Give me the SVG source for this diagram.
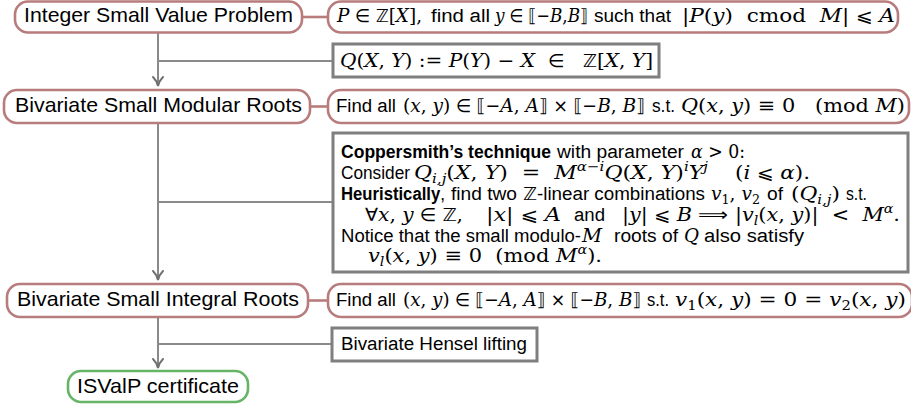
<svg xmlns="http://www.w3.org/2000/svg" width="911" height="409" viewBox="0 0 911 409">
<style>
text{font-family:"Liberation Sans",Arial,sans-serif;font-size:18px;fill:#000;white-space:pre}
text.big{font-size:21px}
.m{font-family:"DejaVu Serif","Liberation Serif",serif;font-style:italic;font-size:19px}
.r{font-family:"DejaVu Serif","Liberation Serif",serif;font-size:19px}
.y{font-family:"DejaVu Sans",sans-serif;font-size:18px}
.s{font-size:13px}
.b{font-weight:bold;font-size:17.5px}
.pill{fill:#fff;stroke:#b87c7c;stroke-width:2.6}
.ok{fill:#fff;stroke:#66b566;stroke-width:2.6}
.box{fill:#fff;stroke:#7f7f7f;stroke-width:3}
.ln{fill:none;stroke:#8a8a8a;stroke-width:2}
.rl{fill:none;stroke:#b87c7c;stroke-width:2.6}
.ah{fill:none;stroke:#6f6f6f;stroke-width:2;stroke-linecap:round}
</style>
<g id="connectors">
<line class="rl" x1="302" y1="17" x2="328" y2="17"/>
<line class="rl" x1="310" y1="106.5" x2="328" y2="106.5"/>
<line class="rl" x1="308" y1="300.5" x2="328" y2="300.5"/>
<line class="ln" x1="158" y1="33" x2="158" y2="86"/>
<line class="ln" x1="158" y1="123" x2="158" y2="280"/>
<line class="ln" x1="158" y1="317" x2="158" y2="368"/>
<line class="ln" x1="158" y1="61" x2="333" y2="61"/>
<line class="ln" x1="158" y1="202" x2="333" y2="202"/>
<line class="ln" x1="158" y1="344" x2="332" y2="344"/>
<path class="ah" d="M153,77 Q157,81 158,86 Q159,81 163,77"/>
<path class="ah" d="M153,271 Q157,275 158,280 Q159,275 163,271"/>
<path class="ah" d="M153,359 Q157,363 158,368 Q159,363 163,359"/>
</g>
<g id="isvp">
<rect class="pill" x="15" y="1.5" width="287" height="31" rx="13"/>
<text class="big" x="24" y="22" textLength="269" lengthAdjust="spacingAndGlyphs">Integer Small Value Problem</text>
</g>
<g id="isvp-def">
<rect class="pill" x="328" y="1.5" width="570" height="31" rx="13"/>
<text x="337" y="22" textLength="85" lengthAdjust="spacingAndGlyphs"><tspan class="m">P</tspan><tspan class="y"> ∈ ℤ</tspan><tspan class="r">[</tspan><tspan class="m">X</tspan><tspan class="r">],</tspan></text>
<text x="431" y="22" textLength="59" lengthAdjust="spacingAndGlyphs">find all</text>
<text x="495" y="22" textLength="93" lengthAdjust="spacingAndGlyphs"><tspan class="m">y</tspan><tspan class="y"> ∈ ⟦−</tspan><tspan class="m">B</tspan><tspan class="r">,</tspan><tspan class="m">B</tspan><tspan class="y">⟧</tspan></text>
<text x="594" y="22" textLength="77" lengthAdjust="spacingAndGlyphs">such that</text>
<text x="682" y="22" textLength="213" lengthAdjust="spacingAndGlyphs"><tspan class="r">|</tspan><tspan class="m">P</tspan><tspan class="r">(</tspan><tspan class="m">y</tspan><tspan class="r">)  cmod  </tspan><tspan class="m">M</tspan><tspan class="r">|</tspan><tspan class="y"> ⩽ </tspan><tspan class="m">A</tspan></text>
</g>
<g id="q-def">
<rect class="box" x="333" y="44" width="326" height="33"/>
<text x="340" y="67" textLength="195" lengthAdjust="spacingAndGlyphs"><tspan class="m">Q</tspan><tspan class="r">(</tspan><tspan class="m">X</tspan><tspan class="r">, </tspan><tspan class="m">Y</tspan><tspan class="r">) := </tspan><tspan class="m">P</tspan><tspan class="r">(</tspan><tspan class="m">Y</tspan><tspan class="r">) − </tspan><tspan class="m">X</tspan></text>
<text x="548" y="67" textLength="105" lengthAdjust="spacingAndGlyphs"><tspan class="y">∈   ℤ</tspan><tspan class="r">[</tspan><tspan class="m">X</tspan><tspan class="r">, </tspan><tspan class="m">Y</tspan><tspan class="r">]</tspan></text>
</g>
<g id="bsmr">
<rect class="pill" x="4" y="90" width="306" height="33" rx="13"/>
<text class="big" x="15" y="112" textLength="287" lengthAdjust="spacingAndGlyphs">Bivariate Small Modular Roots</text>
</g>
<g id="bsmr-def">
<rect class="pill" x="328" y="90" width="581" height="33" rx="13"/>
<text x="336" y="112" textLength="60" lengthAdjust="spacingAndGlyphs">Find all</text>
<text x="403" y="112" textLength="242" lengthAdjust="spacingAndGlyphs"><tspan class="r">(</tspan><tspan class="m">x</tspan><tspan class="r">, </tspan><tspan class="m">y</tspan><tspan class="r">)</tspan><tspan class="y"> ∈ ⟦−</tspan><tspan class="m">A</tspan><tspan class="r">, </tspan><tspan class="m">A</tspan><tspan class="y">⟧ × ⟦−</tspan><tspan class="m">B</tspan><tspan class="r">, </tspan><tspan class="m">B</tspan><tspan class="y">⟧</tspan></text>
<text x="652" y="112" textLength="23" lengthAdjust="spacingAndGlyphs">s.t.</text>
<text x="681" y="112" textLength="224" lengthAdjust="spacingAndGlyphs"><tspan class="m">Q</tspan><tspan class="r">(</tspan><tspan class="m">x</tspan><tspan class="r">, </tspan><tspan class="m">y</tspan><tspan class="r">) ≡ 0   (mod </tspan><tspan class="m">M</tspan><tspan class="r">)</tspan></text>
</g>
<g id="coppersmith">
<rect class="box" x="333" y="133" width="575" height="139"/>
<text x="341" y="158" textLength="210" lengthAdjust="spacingAndGlyphs" class="b">Coppersmith’s technique</text>
<text x="557" y="158" textLength="127" lengthAdjust="spacingAndGlyphs">with parameter</text>
<text x="691" y="158" textLength="54" lengthAdjust="spacingAndGlyphs"><tspan class="m">α</tspan><tspan class="r"> &gt; 0:</tspan></text>
<text x="341" y="179" textLength="69" lengthAdjust="spacingAndGlyphs">Consider</text>
<text x="414" y="179" textLength="294" lengthAdjust="spacingAndGlyphs"><tspan class="m">Q</tspan><tspan class="m s" dy="4">i,j</tspan><tspan class="r" dy="-4">(</tspan><tspan class="m">X</tspan><tspan class="r">, </tspan><tspan class="m">Y</tspan><tspan class="r">)  =  </tspan><tspan class="m">M</tspan><tspan class="m s" dy="-8">α−i</tspan><tspan class="m" dy="8">Q</tspan><tspan class="r">(</tspan><tspan class="m">X</tspan><tspan class="r">, </tspan><tspan class="m">Y</tspan><tspan class="r">)</tspan><tspan class="m s" dy="-8">i</tspan><tspan class="m" dy="8">Y</tspan><tspan class="m s" dy="-8">j</tspan></text>
<text x="735" y="179" textLength="75" lengthAdjust="spacingAndGlyphs"><tspan class="r">(</tspan><tspan class="m">i</tspan><tspan class="y"> ⩽ </tspan><tspan class="m">α</tspan><tspan class="r">).</tspan></text>
<text x="341" y="200" textLength="104" lengthAdjust="spacingAndGlyphs"><tspan class="b">Heuristically</tspan>,</text>
<text x="451" y="200" textLength="66" lengthAdjust="spacingAndGlyphs">find two</text>
<text x="523" y="200" textLength="182" lengthAdjust="spacingAndGlyphs"><tspan class="y">ℤ</tspan>-linear combinations</text>
<text x="711" y="200" textLength="49" lengthAdjust="spacingAndGlyphs"><tspan class="m">v</tspan><tspan class="r s" dy="4">1</tspan><tspan class="r" dy="-4">, </tspan><tspan class="m">v</tspan><tspan class="r s" dy="4">2</tspan></text>
<text x="767" y="200" textLength="16" lengthAdjust="spacingAndGlyphs">of</text>
<text x="791" y="200" textLength="49" lengthAdjust="spacingAndGlyphs"><tspan class="r">(</tspan><tspan class="m">Q</tspan><tspan class="m s" dy="4">i,j</tspan><tspan class="r" dy="-4">)</tspan></text>
<text x="846" y="200" textLength="21" lengthAdjust="spacingAndGlyphs">s.t.</text>
<text x="365" y="221" textLength="98" lengthAdjust="spacingAndGlyphs"><tspan class="y">∀</tspan><tspan class="m">x</tspan><tspan class="r">, </tspan><tspan class="m">y</tspan><tspan class="y"> ∈ ℤ</tspan><tspan class="r">,</tspan></text>
<text x="486" y="221" textLength="75" lengthAdjust="spacingAndGlyphs"><tspan class="r">|</tspan><tspan class="m">x</tspan><tspan class="r">|</tspan><tspan class="y"> ⩽ </tspan><tspan class="m">A</tspan></text>
<text x="574" y="221" textLength="31" lengthAdjust="spacingAndGlyphs">and</text>
<text x="622" y="221" textLength="70" lengthAdjust="spacingAndGlyphs"><tspan class="r">|</tspan><tspan class="m">y</tspan><tspan class="r">|</tspan><tspan class="y"> ⩽ </tspan><tspan class="m">B</tspan></text>
<text x="698" y="221" textLength="30" lengthAdjust="spacingAndGlyphs"><tspan class="y">⟹</tspan></text>
<text x="735" y="221" textLength="165" lengthAdjust="spacingAndGlyphs"><tspan class="r">|</tspan><tspan class="m">v</tspan><tspan class="m s" dy="4">l</tspan><tspan class="r" dy="-4">(</tspan><tspan class="m">x</tspan><tspan class="r">, </tspan><tspan class="m">y</tspan><tspan class="r">)|  &lt;  </tspan><tspan class="m">M</tspan><tspan class="m s" dy="-8">α</tspan><tspan class="r" dy="8">.</tspan></text>
<text x="341" y="241.5" textLength="240" lengthAdjust="spacingAndGlyphs">Notice that the small modulo-</text>
<text x="582" y="241.5" textLength="20" lengthAdjust="spacingAndGlyphs"><tspan class="m">M</tspan></text>
<text x="614" y="241.5" textLength="64" lengthAdjust="spacingAndGlyphs">roots of</text>
<text x="684" y="241.5" textLength="15" lengthAdjust="spacingAndGlyphs"><tspan class="m">Q</tspan></text>
<text x="704" y="241.5" textLength="100" lengthAdjust="spacingAndGlyphs">also satisfy</text>
<text x="368" y="261.5" textLength="234" lengthAdjust="spacingAndGlyphs"><tspan class="m">v</tspan><tspan class="m s" dy="4">l</tspan><tspan class="r" dy="-4">(</tspan><tspan class="m">x</tspan><tspan class="r">, </tspan><tspan class="m">y</tspan><tspan class="r">) ≡ 0  (mod </tspan><tspan class="m">M</tspan><tspan class="m s" dy="-8">α</tspan><tspan class="r" dy="8">).</tspan></text>
</g>
<g id="bsir">
<rect class="pill" x="7" y="284" width="301" height="33" rx="13"/>
<text class="big" x="17" y="305.5" textLength="282" lengthAdjust="spacingAndGlyphs">Bivariate Small Integral Roots</text>
</g>
<g id="bsir-def">
<rect class="pill" x="328" y="284" width="584" height="33" rx="13"/>
<text x="336" y="305.5" textLength="60" lengthAdjust="spacingAndGlyphs">Find all</text>
<text x="403" y="305.5" textLength="238" lengthAdjust="spacingAndGlyphs"><tspan class="r">(</tspan><tspan class="m">x</tspan><tspan class="r">, </tspan><tspan class="m">y</tspan><tspan class="r">)</tspan><tspan class="y"> ∈ ⟦−</tspan><tspan class="m">A</tspan><tspan class="r">, </tspan><tspan class="m">A</tspan><tspan class="y">⟧ × ⟦−</tspan><tspan class="m">B</tspan><tspan class="r">, </tspan><tspan class="m">B</tspan><tspan class="y">⟧</tspan></text>
<text x="647" y="305.5" textLength="22" lengthAdjust="spacingAndGlyphs">s.t.</text>
<text x="675" y="305.5" textLength="231" lengthAdjust="spacingAndGlyphs"><tspan class="m">v</tspan><tspan class="r s" dy="4">1</tspan><tspan class="r" dy="-4">(</tspan><tspan class="m">x</tspan><tspan class="r">, </tspan><tspan class="m">y</tspan><tspan class="r">) = 0 = </tspan><tspan class="m">v</tspan><tspan class="r s" dy="4">2</tspan><tspan class="r" dy="-4">(</tspan><tspan class="m">x</tspan><tspan class="r">, </tspan><tspan class="m">y</tspan><tspan class="r">)</tspan></text>
</g>
<g id="hensel">
<rect class="box" x="332" y="328" width="205" height="33"/>
<text x="341" y="350" textLength="186" lengthAdjust="spacingAndGlyphs">Bivariate Hensel lifting</text>
</g>
<g id="certificate">
<rect class="ok" x="68" y="371" width="180" height="31" rx="13"/>
<text class="big" x="77" y="393" textLength="162" lengthAdjust="spacingAndGlyphs">ISValP certificate</text>
</g>
</svg>
